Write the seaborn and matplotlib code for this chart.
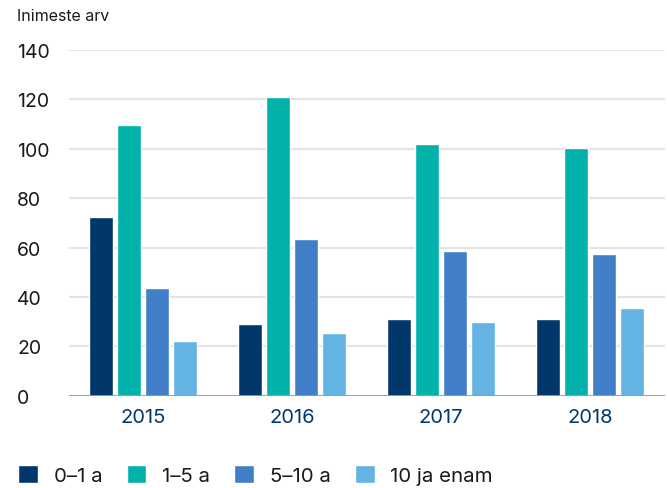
import matplotlib
matplotlib.use("Agg")
import matplotlib.pyplot as plt
import seaborn as sns
import pandas as pd

years = ["2015", "2016", "2017", "2018"]
groups = ["0–1 a", "1–5 a", "5–10 a", "10 ja enam"]
v_0_1 = [72.5, 29, 31, 31]
v_1_5 = [109.5, 121, 102, 100.5]
v_5_10 = [43.5, 63.5, 58.5, 57.5]
v_10p = [22, 25.5, 30, 35.5]
colors = ["#02376b", "#00b2a9", "#417fc9", "#63b4e4"]
yticks = [0, 20, 40, 60, 80, 100, 120, 140]

rows = []
for g, vals in zip(groups, [v_0_1, v_1_5, v_5_10, v_10p]):
    for y, v in zip(years, vals):
        rows.append({"Aasta": y, "Grupp": g, "Arv": v})
df = pd.DataFrame(rows)

sns.set_theme(style="white")
plt.rcParams["font.family"] = ["Inter", "DejaVu Sans"]

fig = plt.figure(figsize=(6.67, 4.89), dpi=100)
ax = fig.add_axes([0.1027, 0.1885, 0.8936, 0.7072])

sns.barplot(data=df, x="Aasta", y="Arv", hue="Grupp", hue_order=groups,
            palette=colors, width=0.75, gap=0.14, saturation=1,
            errorbar=None, ax=ax)

ax.set_ylim(0, 140)
ax.set_xlim(-0.5, 3.5)
ax.set_yticks(yticks)
ax.set_yticklabels([str(t) for t in yticks])
for lab in ax.get_yticklabels():
    lab.set_horizontalalignment("left")
ax.tick_params(axis="y", length=0, pad=37, labelsize=14, labelcolor="#1a1a1a")
ax.tick_params(axis="x", length=0, pad=9, labelsize=14.5, labelcolor="#02376b")
ax.set_xlabel("")
ax.set_ylabel("")

ax.yaxis.grid(True, color="#e3e3e3", linewidth=1.5)
ax.set_axisbelow(True)
ax.axhline(0, color="#9a9a9a", linewidth=2, zorder=3)
for s in ax.spines.values():
    s.set_visible(False)

fig.text(0.0255, 0.966, "Inimeste arv", fontsize=11.5, color="#1a1a1a",
         ha="left", va="center")

handles, labels = ax.get_legend_handles_labels()
if ax.legend_:
    ax.legend_.remove()
fig.legend(handles, labels, loc="center left", bbox_to_anchor=(0.012, 0.027),
           ncol=4, frameon=False, fontsize=14.7, handlelength=0.96,
           handleheight=0.96, handletextpad=0.77, columnspacing=1.2,
           borderpad=0.0, labelcolor="#1a1a1a")

fig.savefig("out.png", dpi=100)
